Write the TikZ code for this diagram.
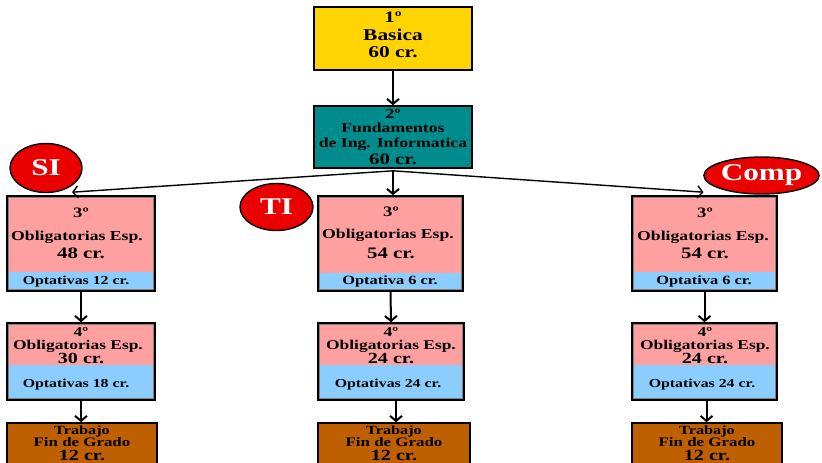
\documentclass[tikz,border=0pt]{standalone}
\usepackage{fontspec}
\setmainfont{Liberation Serif}
\newfontfamily\wf[FakeStretch=1.3]{Liberation Serif}
\newfontfamily\ef[FakeStretch=1.3]{Liberation Serif}
\usetikzlibrary{arrows.meta,shapes.geometric}
\definecolor{cyellow}{RGB}{255,212,0}
\definecolor{cteal}{RGB}{0,140,140}
\definecolor{cpink}{RGB}{255,160,160}
\definecolor{cblue}{RGB}{140,205,255}
\definecolor{cbrown}{RGB}{190,95,0}
\definecolor{cred}{RGB}{235,0,0}
\newcommand\fsz[1]{\fontsize{#1}{#1}\selectfont}
\tikzset{
  lbl/.style={inner sep=0pt, anchor=base, font=\wf\bfseries\fsz{#1}},
  plainbox/.style={draw=black, line width=1.6pt, inner sep=0pt},
  framebox/.style={draw=black, line width=1.6pt, fill=cpink, inner sep=0pt},
  strip/.style={fill=cblue, inner sep=0pt},
  innerline/.style={draw=gray, line width=1pt},
  arr/.style={line width=2pt, -{Straight Barb[length=5pt,width=12pt]}},
  branch/.style={line width=1.4pt, -{Straight Barb[length=5pt,width=12pt]}},
  tag/.style={ellipse, draw=black, line width=1.4pt, fill=cred, inner sep=0pt, text=white, font=\ef\bfseries\fsz{24}}
}
\begin{document}
\begin{tikzpicture}[x=1pt,y=-1pt]
\useasboundingbox (0,0) rectangle (822,463);
\clip (0,0) rectangle (822,463);
% top boxes
\node[plainbox, fill=cyellow, minimum width=158pt, minimum height=63pt] (b1) at (393,38.5) {};
\node[lbl=16] (b1a) at (393,22) {1º};
\node[lbl=16.5] (b1b) at (393,40) {Basica};
\node[lbl=16.5] (b1c) at (393,57) {60 cr.};
\node[plainbox, fill=cteal, minimum width=158pt, minimum height=62pt] (b2) at (393,137) {};
\node[lbl=14] (b2a) at (393,118) {2º};
\node[lbl=13.6] (b2b) at (393,132) {Fundamentos};
\node[lbl=13.6] (b2c) at (393,147) {de Ing. Informatica};
\node[lbl=16] (b2d) at (393,164) {60 cr.};
\coordinate (hub) at ([yshift=-2pt]b2.south);
\draw[arr] (b1.south) -- (b2.north);

% left column (SI)
\node[framebox, minimum width=148pt, minimum height=95pt] (l3) at (81,243.5) {};
\node[strip, minimum width=144pt, minimum height=17pt] (l3o) at (81,280.5) {};
\draw[innerline] ([shift={(2pt,2pt)}]l3.south west) rectangle ([shift={(-2pt,-2pt)}]l3.north east);
\node[lbl=14.4] (l3a) at (81,217) {3º};
\node[lbl=13.6] (l3b) at (77,240) {Obligatorias Esp.};
\node[lbl=16] (l3c) at (81,258) {48 cr.};
\node[lbl=12.2] (l3d) at (76,284) {Optativas 12 cr.};
\node[framebox, minimum width=148pt, minimum height=77pt] (l4) at (81,361.5) {};
\node[strip, minimum width=144pt, minimum height=33pt] (l4o) at (81,381.5) {};
\draw[innerline] ([shift={(2pt,2pt)}]l4.south west) rectangle ([shift={(-2pt,-2pt)}]l4.north east);
\node[lbl=13.5] (l4a) at (81,336) {4º};
\node[lbl=13.4] (l4b) at (78,349.5) {Obligatorias Esp.};
\node[lbl=15.5] (l4c) at (81,363) {30 cr.};
\node[lbl=12.2] (l4d) at (76,387) {Optativas 18 cr.};
\node[plainbox, fill=cbrown, minimum width=150pt, minimum height=48pt] (l5) at (82,447) {};
\node[lbl=12.5] (l5a) at (82,434.5) {Trabajo};
\node[lbl=13] (l5b) at (82,446) {Fin de Grado};
\node[lbl=15.5] (l5c) at (82,460) {12 cr.};
\draw[arr] (l3.south) -- (l4.north);
\draw[arr] (l4.south) -- (l4.south |- l5.north);

% middle column (TI)
\node[framebox, minimum width=145pt, minimum height=95pt] (m3) at (390.5,243.5) {};
\node[strip, minimum width=141pt, minimum height=16pt] (m3o) at (390.5,281) {};
\draw[innerline] ([shift={(2pt,2pt)}]m3.south west) rectangle ([shift={(-2pt,-2pt)}]m3.north east);
\node[lbl=14.4] (m3a) at (391,216) {3º};
\node[lbl=13.6] (m3b) at (388,238) {Obligatorias Esp.};
\node[lbl=16] (m3c) at (391,258) {54 cr.};
\node[lbl=12.6] (m3d) at (390,284) {Optativa 6 cr.};
\node[framebox, minimum width=146pt, minimum height=77pt] (m4) at (391,361.5) {};
\node[strip, minimum width=142pt, minimum height=33pt] (m4o) at (391,381.5) {};
\draw[innerline] ([shift={(2pt,2pt)}]m4.south west) rectangle ([shift={(-2pt,-2pt)}]m4.north east);
\node[lbl=13.5] (m4a) at (391,336) {4º};
\node[lbl=13.4] (m4b) at (391,349.5) {Obligatorias Esp.};
\node[lbl=15.5] (m4c) at (391,363) {24 cr.};
\node[lbl=12.2] (m4d) at (388,387) {Optativas 24 cr.};
\node[plainbox, fill=cbrown, minimum width=152pt, minimum height=48pt] (m5) at (394,447) {};
\node[lbl=12.5] (m5a) at (394,434.5) {Trabajo};
\node[lbl=13] (m5b) at (394,446) {Fin de Grado};
\node[lbl=15.5] (m5c) at (394,460) {12 cr.};
\draw[arr] (m3.south) -- (m4.north);
\draw[arr] ([xshift=5pt]m4.south) -- ([xshift=5pt]m4.south |- m5.north);

% right column (Comp)
\node[framebox, minimum width=145pt, minimum height=95pt] (r3) at (704.5,243.5) {};
\node[strip, minimum width=141pt, minimum height=17pt] (r3o) at (704.5,280.5) {};
\draw[innerline] ([shift={(2pt,2pt)}]r3.south west) rectangle ([shift={(-2pt,-2pt)}]r3.north east);
\node[lbl=14.4] (r3a) at (705,217) {3º};
\node[lbl=13.6] (r3b) at (703,240) {Obligatorias Esp.};
\node[lbl=16] (r3c) at (705,258) {54 cr.};
\node[lbl=12.6] (r3d) at (704,284) {Optativa 6 cr.};
\node[framebox, minimum width=145pt, minimum height=77pt] (r4) at (704.5,361.5) {};
\node[strip, minimum width=141pt, minimum height=33pt] (r4o) at (704.5,381.5) {};
\draw[innerline] ([shift={(2pt,2pt)}]r4.south west) rectangle ([shift={(-2pt,-2pt)}]r4.north east);
\node[lbl=13.5] (r4a) at (705,336) {4º};
\node[lbl=13.4] (r4b) at (705,349.5) {Obligatorias Esp.};
\node[lbl=15.5] (r4c) at (705,363) {24 cr.};
\node[lbl=12.2] (r4d) at (702,387) {Optativas 24 cr.};
\node[plainbox, fill=cbrown, minimum width=150pt, minimum height=48pt] (r5) at (707,447) {};
\node[lbl=12.5] (r5a) at (707,434.5) {Trabajo};
\node[lbl=13] (r5b) at (707,446) {Fin de Grado};
\node[lbl=15.5] (r5c) at (707,460) {12 cr.};
\draw[arr] (r3.south) -- (r4.north);
\draw[arr] ([xshift=2pt]r4.south) -- ([xshift=2pt]r4.south |- r5.north);

% branches
\draw[branch] (hub) -- ([xshift=-9pt,yshift=3pt]l3.north);
\draw[arr] (hub) -- (hub |- m3.north);
\draw[branch] (hub) -- ([xshift=-1pt,yshift=3pt]r3.north);

% tags
\node[tag, minimum width=72pt, minimum height=49pt] (si) at (46,168) {SI};
\node[tag, minimum width=73pt, minimum height=47pt] (ti) at (276.5,207) {TI};
\node[tag, minimum width=103pt, minimum height=37pt] (comp) at (761.5,175.5) {Comp};
\end{tikzpicture}
\end{document}
